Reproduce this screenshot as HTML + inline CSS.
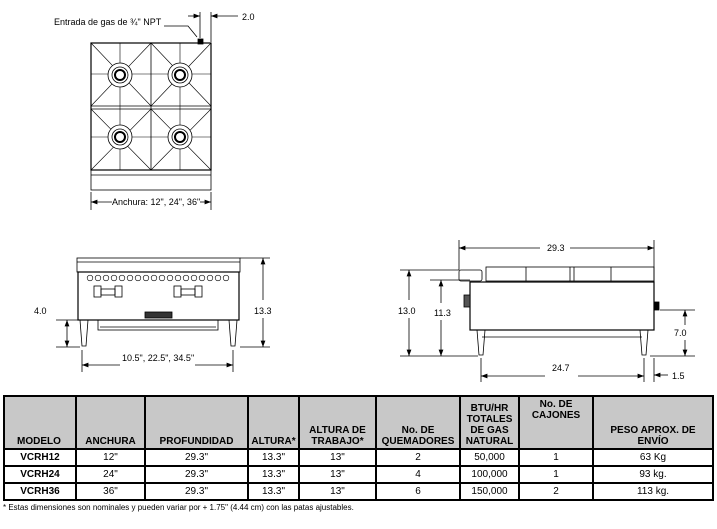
<!DOCTYPE html>
<html><head><meta charset="utf-8"><style>
html,body{margin:0;padding:0;background:#fff;}
body{width:717px;height:529px;position:relative;overflow:hidden;font-family:"Liberation Sans",Arial,sans-serif;}
svg{position:absolute;left:0;top:0}
table{position:absolute;left:3px;top:395px;border-collapse:collapse;font-size:10px;}
td{border:2px solid #000;padding:0;text-align:center;height:15px;line-height:13px;}
tr.h td{background:#c8c8c8;font-weight:bold;vertical-align:bottom;height:48px;line-height:11px;padding-bottom:1px}
td.b{font-weight:bold}
.foot{position:absolute;left:3px;top:503px;font-size:8px;}
</style></head><body>
<svg width="717" height="529" viewBox="0 0 717 529" font-family="Liberation Sans, Arial, sans-serif" font-size="9" fill="none" stroke="#000" stroke-width="0.8">
<defs><marker id="a" markerWidth="8" markerHeight="6" refX="8" refY="3" orient="auto-start-reverse"><path d="M0,0 L8,3 L0,6 z" fill="#000" stroke="none"/></marker></defs>
<rect x="91" y="43" width="120" height="127" stroke-width="1.2"/>
<rect x="91" y="170" width="120" height="20"/>
<line x1="91" y1="175" x2="211" y2="175"/>
<line x1="151" y1="43" x2="151" y2="170"/>
<line x1="91" y1="106" x2="211" y2="106"/><line x1="91" y1="109" x2="211" y2="109"/>
<g stroke-width="0.6">
<line x1="91" y1="74" x2="211" y2="74"/><line x1="91" y1="137" x2="211" y2="137"/>
<line x1="120" y1="43" x2="120" y2="170"/><line x1="180" y1="43" x2="180" y2="170"/>
<path d="M91 43L151 106M151 43L91 106M151 43L211 106M211 43L151 106M91 109L151 170M151 109L91 170M151 109L211 170M211 109L151 170"/>
</g>
<g fill="#fff">
<circle cx="120" cy="75" r="12"/><circle cx="120" cy="75" r="8"/><circle cx="120" cy="75" r="5" stroke-width="2"/>
<circle cx="180" cy="75" r="12"/><circle cx="180" cy="75" r="8"/><circle cx="180" cy="75" r="5" stroke-width="2"/>
<circle cx="120" cy="137" r="12"/><circle cx="120" cy="137" r="8"/><circle cx="120" cy="137" r="5" stroke-width="2"/>
<circle cx="180" cy="137" r="12"/><circle cx="180" cy="137" r="8"/><circle cx="180" cy="137" r="5" stroke-width="2"/>
</g>
<rect x="198" y="39" width="5" height="5" fill="#000"/>
<line x1="200" y1="12" x2="200" y2="38"/><line x1="211" y1="12" x2="211" y2="42"/>
<line x1="188" y1="16" x2="200" y2="16" marker-end="url(#a)"/><line x1="238" y1="16" x2="211" y2="16" marker-end="url(#a)"/>
<path d="M164 26 L188 26 L197 37"/>
<line x1="91" y1="192" x2="91" y2="210"/><line x1="211" y1="192" x2="211" y2="210"/>
<line x1="112" y1="202" x2="91" y2="202" marker-end="url(#a)"/><line x1="200" y1="202" x2="211" y2="202" marker-end="url(#a)"/>
<g fill="#000" stroke="none">
<text x="54" y="25">Entrada de gas de ¾" NPT</text>
<text x="242" y="20">2.0</text>
<text x="112" y="205">Anchura: 12", 24", 36"</text>
</g>
<rect x="77" y="258" width="163" height="14"/>
<line x1="77" y1="262" x2="240" y2="262"/>
<rect x="78" y="272" width="161" height="48" stroke-width="1.2"/>
<rect x="98" y="320" width="120" height="10"/>
<line x1="100" y1="327" x2="216" y2="327"/>
<path d="M80 320 L82 346 L86 346 L88 320 M229 320 L231 346 L235 346 L237 320"/>
<g stroke-width="0.6">
<circle cx="90" cy="278" r="2.8"/><circle cx="98" cy="278" r="2.8"/><circle cx="106" cy="278" r="2.8"/><circle cx="114" cy="278" r="2.8"/><circle cx="122" cy="278" r="2.8"/><circle cx="130" cy="278" r="2.8"/><circle cx="138" cy="278" r="2.8"/><circle cx="146" cy="278" r="2.8"/><circle cx="154" cy="278" r="2.8"/><circle cx="162" cy="278" r="2.8"/><circle cx="170" cy="278" r="2.8"/><circle cx="178" cy="278" r="2.8"/><circle cx="186" cy="278" r="2.8"/><circle cx="194" cy="278" r="2.8"/><circle cx="202" cy="278" r="2.8"/><circle cx="210" cy="278" r="2.8"/><circle cx="218" cy="278" r="2.8"/><circle cx="226" cy="278" r="2.8"/>
</g>
<rect x="94" y="286" width="7" height="11"/><rect x="115" y="286" width="7" height="11"/><rect x="101" y="289" width="14" height="6"/>
<rect x="174" y="286" width="7" height="11"/><rect x="195" y="286" width="7" height="11"/><rect x="181" y="289" width="14" height="6"/>
<rect x="145" y="312" width="27" height="6" fill="#333"/>
<line x1="240" y1="258" x2="270" y2="258"/><line x1="240" y1="347" x2="270" y2="347"/>
<line x1="263" y1="300" x2="263" y2="258" marker-end="url(#a)"/><line x1="263" y1="318" x2="263" y2="347" marker-end="url(#a)"/>
<line x1="56" y1="320" x2="78" y2="320"/><line x1="56" y1="347" x2="80" y2="347"/>
<line x1="67" y1="320" x2="67" y2="347" marker-start="url(#a)" marker-end="url(#a)"/>
<line x1="82" y1="350" x2="82" y2="372"/><line x1="233" y1="350" x2="233" y2="372"/>
<line x1="120" y1="365" x2="82" y2="365" marker-end="url(#a)"/><line x1="195" y1="365" x2="233" y2="365" marker-end="url(#a)"/>
<g fill="#000" stroke="none">
<text x="254" y="314">13.3</text>
<text x="34" y="314">4.0</text>
<text x="122" y="361">10.5", 22.5", 34.5"</text>
</g>
<line x1="459" y1="240" x2="459" y2="270"/><line x1="654" y1="240" x2="654" y2="300"/>
<line x1="540" y1="248" x2="459" y2="248" marker-end="url(#a)"/><line x1="570" y1="248" x2="654" y2="248" marker-end="url(#a)"/>
<rect x="459" y="270" width="23" height="11" rx="2"/>
<rect x="486" y="267" width="168" height="14"/>
<path d="M526 267V281M570 267V281M574 267V281M611 267V281"/>
<rect x="470" y="282" width="184" height="48" stroke-width="1.2"/>
<rect x="464" y="295" width="6" height="12" fill="#555"/>
<rect x="654" y="302" width="5" height="8" fill="#000"/>
<line x1="482" y1="337" x2="642" y2="337"/>
<path d="M477 330 L479 355 L483 355 L485 330 M640 330 L642 355 L646 355 L648 330"/>
<line x1="400" y1="270" x2="459" y2="270"/><line x1="430" y1="280" x2="470" y2="280"/>
<line x1="400" y1="356" x2="478" y2="356"/><line x1="650" y1="356" x2="695" y2="356"/>
<line x1="409" y1="300" x2="409" y2="270" marker-end="url(#a)"/><line x1="409" y1="318" x2="409" y2="356" marker-end="url(#a)"/>
<line x1="441" y1="303" x2="441" y2="280" marker-end="url(#a)"/><line x1="441" y1="320" x2="441" y2="356" marker-end="url(#a)"/>
<line x1="660" y1="310" x2="695" y2="310"/>
<line x1="685" y1="325" x2="685" y2="310" marker-end="url(#a)"/><line x1="685" y1="340" x2="685" y2="356" marker-end="url(#a)"/>
<line x1="481" y1="358" x2="481" y2="382"/><line x1="644" y1="358" x2="644" y2="382"/><line x1="654" y1="358" x2="654" y2="382"/>
<line x1="545" y1="376" x2="481" y2="376" marker-end="url(#a)"/><line x1="578" y1="376" x2="644" y2="376" marker-end="url(#a)"/>
<line x1="668" y1="375" x2="654" y2="375" marker-end="url(#a)"/>
<g fill="#000" stroke="none">
<text x="547" y="251">29.3</text>
<text x="398" y="314">13.0</text>
<text x="434" y="316">11.3</text>
<text x="674" y="336">7.0</text>
<text x="552" y="371">24.7</text>
<text x="672" y="379">1.5</text>
</g>
</svg>
<table>
<colgroup><col style="width:72px"><col style="width:69px"><col style="width:103px"><col style="width:51px"><col style="width:77px"><col style="width:84px"><col style="width:59px"><col style="width:74px"><col style="width:120px"></colgroup>
<tr class="h"><td style="text-align:left;padding-left:12px">MODELO</td><td>ANCHURA</td><td>PROFUNDIDAD</td><td>ALTURA*</td><td>ALTURA DE<br>TRABAJO*</td><td>No. DE<br>QUEMADORES</td><td>BTU/HR<br>TOTALES<br>DE GAS<br>NATURAL</td><td style="vertical-align:top;padding-top:2px">No. DE<br>CAJONES</td><td>PESO APROX. DE<br>ENVÍO</td></tr>
<tr><td class="b">VCRH12</td><td>12"</td><td>29.3"</td><td>13.3"</td><td>13"</td><td>2</td><td>50,000</td><td>1</td><td>63 Kg</td></tr>
<tr><td class="b">VCRH24</td><td>24"</td><td>29.3"</td><td>13.3"</td><td>13"</td><td>4</td><td>100,000</td><td>1</td><td>93 kg.</td></tr>
<tr><td class="b">VCRH36</td><td>36"</td><td>29.3"</td><td>13.3"</td><td>13"</td><td>6</td><td>150,000</td><td>2</td><td>113 kg.</td></tr>
</table>
<div class="foot">* Estas dimensiones son nominales y pueden variar por + 1.75" (4.44 cm) con las patas ajustables.</div>
</body></html>
